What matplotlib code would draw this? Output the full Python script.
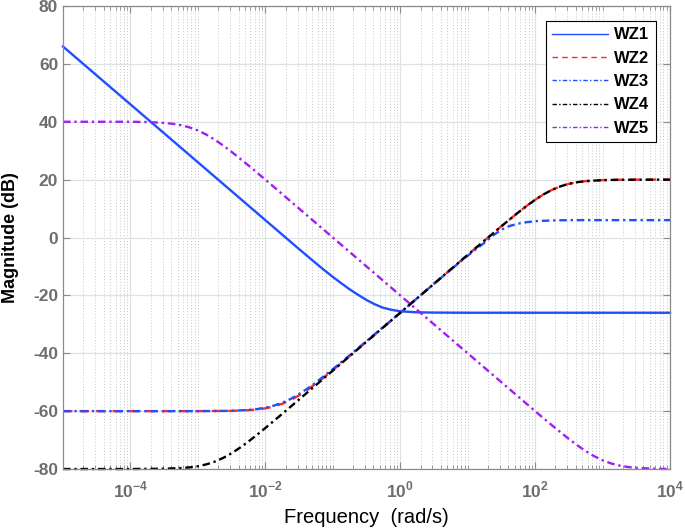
import numpy as np
import matplotlib
matplotlib.use("Agg")
import matplotlib.pyplot as plt
from matplotlib.ticker import FixedLocator, LogLocator, NullFormatter

plt.rcParams['font.family'] = ['Liberation Sans', 'DejaVu Sans']
plt.rcParams['mathtext.fontset'] = 'custom'
plt.rcParams['mathtext.rm'] = 'Liberation Sans:bold'
plt.rcParams['mathtext.bf'] = 'Liberation Sans:bold'
plt.rcParams['axes.unicode_minus'] = False

# each curve: log10 of frequency (rad/s) and magnitude (dB)
wz1_lw = [-5.0, -4.0, -3.0, -2.0, -1.75, -1.5, -1.25, -1.125, -1.0, -0.875, -0.75, -0.625,
          -0.5, -0.375, -0.25, -0.125, 0.0, 0.25, 0.5, 1.0, 4.0]
wz1_db = [66.0, 46.0, 26.0, 6.0, 1.0, -4.0, -8.9, -11.3, -13.6, -15.8, -17.9, -19.8,
          -21.6, -23.1, -24.3, -25.0, -25.5, -25.85, -25.95, -26.0, -26.0]

wz2_lw = [-5.0, -3.0, -2.5, -2.25, -2.125, -2.0, -1.875, -1.75, -1.625, -1.5, -1.375,
          -1.25, -1.125, -1.0, -0.75, -0.5, -0.25, 0.0, 1.0, 1.5, 1.75, 1.875, 2.0,
          2.125, 2.25, 2.375, 2.5, 2.625, 2.75, 3.0, 3.25, 3.5, 4.0]
wz2_db = [-60.0, -60.0, -59.9, -59.67, -59.43, -59.03, -58.4, -57.46, -56.17, -54.55, -52.62,
          -50.49, -48.2, -45.83, -40.95, -35.98, -31.0, -26.0, -6.0, 3.9, 8.67, 10.93, 13.03,
          14.9, 16.46, 17.67, 18.55, 19.12, 19.49, 19.83, 19.95, 19.98, 20.0]

wz3_lw = [-5.0, -3.0, -2.5, -2.25, -2.125, -2.0, -1.875, -1.75, -1.625, -1.5, -1.375,
          -1.25, -1.125, -1.0, -0.75, -0.5, -0.25, 0.0, 0.5, 0.75, 1.0, 1.125, 1.25,
          1.375, 1.5, 1.625, 1.75, 1.875, 2.0, 2.25, 2.5, 3.0, 4.0]
wz3_db = [-60.0, -60.0, -59.9, -59.6, -59.3, -58.8, -58.1, -57.1, -55.8, -54.1, -52.2,
          -50.1, -47.8, -45.5, -40.7, -35.8, -30.9, -26.0, -16.0, -11.1, -6.3, -4.0, -1.8,
          0.7, 2.7, 4.0, 4.8, 5.3, 5.65, 5.9, 6.0, 6.0, 6.0]

wz4_lw = [-5.0, -4.0, -3.5, -3.25, -3.125, -3.0, -2.875, -2.75, -2.625, -2.5, -2.375,
          -2.25, -2.125, -2.0, -1.75, -1.5, -1.25, -1.0, 0.0, 1.0, 1.5, 1.75, 1.875, 2.0,
          2.125, 2.25, 2.375, 2.5, 2.625, 2.75, 3.0, 3.25, 3.5, 4.0]
wz4_db = [-80.0, -80.0, -79.9, -79.67, -79.43, -79.03, -78.4, -77.46, -76.17, -74.55, -72.62,
          -70.49, -68.2, -65.83, -60.95, -55.98, -51.0, -46.0, -26.0, -6.0, 3.9, 8.67, 10.93, 13.03,
          14.9, 16.46, 17.67, 18.55, 19.12, 19.49, 19.83, 19.95, 19.98, 20.0]

wz5_lw = [-5.0, -4.0, -3.75, -3.5, -3.375, -3.25, -3.125, -3.0, -2.875, -2.75, -2.625,
          -2.5, -2.25, -2.0, -1.0, 0.0, 1.0, 2.0, 2.25, 2.5, 2.625, 2.75, 2.875, 3.0,
          3.125, 3.25, 3.375, 3.5, 3.75, 4.0]
wz5_db = [40.0, 40.0, 39.9, 39.6, 39.3, 38.8, 38.06, 37.0, 35.56, 33.8, 31.79,
          29.6, 24.9, 20.0, 0.0, -20.0, -40.0, -60.0, -64.9, -69.6, -71.79, -73.8, -75.56, -77.0,
          -78.06, -78.8, -79.3, -79.6, -79.9, -80.0]

labels = ['WZ1', 'WZ2', 'WZ3', 'WZ4', 'WZ5']
x_ticks = [1e-4, 1e-2, 1e0, 1e2, 1e4]
x_ticklabels = [r'$10^{-4}$', r'$10^{-2}$', r'$10^{0}$', r'$10^{2}$', r'$10^{4}$']
y_ticks = [-80, -60, -40, -20, 0, 20, 40, 60, 80]

def hz(lw):
    return 10.0 ** np.array(lw)

fig = plt.figure(figsize=(6.85, 5.32), dpi=100)
ax = fig.add_axes([0.092, 0.1184, 0.8861, 0.8703])

dd = (3.2, 1.6, 1.0, 1.6)
lw = 1.7
ax.plot(hz(wz1_lw), wz1_db, color='#1f4fff', lw=lw, label=labels[0], clip_on=False)
ax.plot(hz(wz2_lw), wz2_db, color='#ff2626', lw=lw, dashes=(4, 3), label=labels[1], clip_on=False)
ax.plot(hz(wz3_lw), wz3_db, color='#1f4fff', lw=lw, dashes=dd, label=labels[2], clip_on=False)
ax.plot(hz(wz4_lw), wz4_db, color='black', lw=lw, dashes=dd, label=labels[3], clip_on=False)
ax.plot(hz(wz5_lw), wz5_db, color='#a11ff0', lw=lw, dashes=dd, label=labels[4], clip_on=False)

ax.set_xscale('log')
ax.set_xlim(1e-5, 1e4)
ax.set_ylim(-80, 80)
ax.xaxis.set_major_locator(FixedLocator(x_ticks))
ax.set_xticklabels(x_ticklabels)
ax.xaxis.set_minor_locator(LogLocator(base=10, subs=np.arange(1, 10), numticks=50))
ax.xaxis.set_minor_formatter(NullFormatter())
ax.set_yticks(y_ticks)

ax.set_axisbelow(True)
ax.grid(True, which='major', color='#dde3e3', lw=0.9, ls='-')
ax.grid(True, which='minor', axis='x', color='#c4c8c8', lw=0.7, ls=(0, (1, 2)))

for s in ax.spines.values():
    s.set_color('#8a8a8a')
    s.set_linewidth(0.9)
ax.tick_params(which='both', direction='in', top=True, right=True, color='#8a8a8a',
               labelcolor='#6e6e6e', labelsize=12.5)
ax.tick_params(which='major', length=5)
ax.tick_params(which='minor', length=3)
for t in ax.get_yticklabels():
    t.set_fontweight('bold')
ax.tick_params(axis='x', pad=8)

ax.set_xlabel('Frequency  (rad/s)', fontsize=14.5, color='black')
ax.xaxis.set_label_coords(0.5, -0.085)
ax.set_ylabel('Magnitude (dB)', fontsize=13, fontweight='bold', color='black')
ax.yaxis.set_label_coords(-0.073, 0.5)

leg = ax.legend(loc='upper right', bbox_to_anchor=(0.977, 0.968), fancybox=False,
                edgecolor='black', framealpha=1, handlelength=3.35, labelspacing=0.5,
                borderpad=0.4, handletextpad=0.36, borderaxespad=0.0,
                prop={'weight': 'bold', 'size': 12})
leg.get_frame().set_linewidth(0.8)
for ln in leg.get_lines():
    ln.set_linewidth(1.0)

fig.savefig('out.png', dpi=100)
